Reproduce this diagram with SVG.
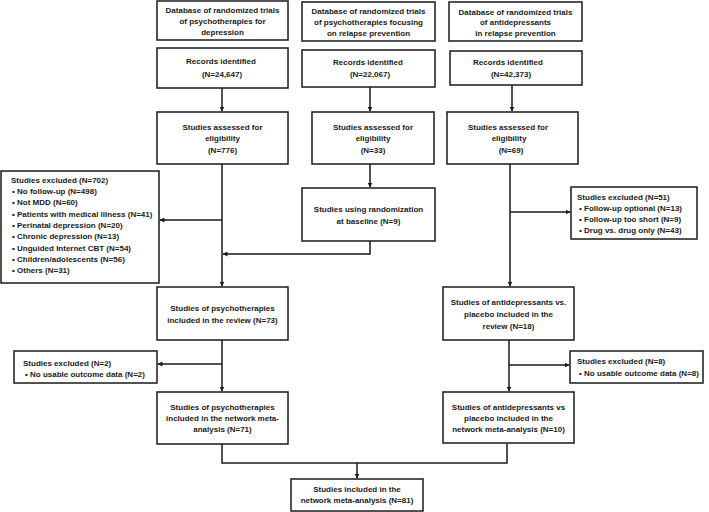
<svg xmlns="http://www.w3.org/2000/svg" width="709" height="512" viewBox="0 0 709 512">
<defs>
<style>
rect{fill:#fff;stroke:#1a1a1a;stroke-width:1.5}
text{font-family:"Liberation Sans",Arial,sans-serif;font-weight:bold;font-size:8px;fill:#1a1a1a}
.c{text-anchor:middle}
.ln{fill:none;stroke:#1a1a1a;stroke-width:1.5}
</style>
<marker id="ah" viewBox="0 0 10 10" refX="9" refY="5" markerWidth="5" markerHeight="5" orient="auto" markerUnits="userSpaceOnUse">
<path d="M0,0 L10,5 L0,10 z" fill="#1a1a1a"/>
</marker>
</defs>
<rect x="0" y="0" width="709" height="512" style="fill:#fff;stroke:none"/>
<g id="connectors">
<path class="ln" d="M222,88 V111" marker-end="url(#ah)"/>
<path class="ln" d="M370,87 V111" marker-end="url(#ah)"/>
<path class="ln" d="M512,85 V111" marker-end="url(#ah)"/>
<path class="ln" d="M222,164 V286" marker-end="url(#ah)"/>
<path class="ln" d="M222,220 H160" marker-end="url(#ah)"/>
<path class="ln" d="M370,164 V187" marker-end="url(#ah)"/>
<path class="ln" d="M370,241 V254 H223" marker-end="url(#ah)"/>
<path class="ln" d="M510,164 V286" marker-end="url(#ah)"/>
<path class="ln" d="M510,212 H570" marker-end="url(#ah)"/>
<path class="ln" d="M222,340 V391" marker-end="url(#ah)"/>
<path class="ln" d="M222,364 H158" marker-end="url(#ah)"/>
<path class="ln" d="M509,340 V391" marker-end="url(#ah)"/>
<path class="ln" d="M509,365 H569" marker-end="url(#ah)"/>
<path class="ln" d="M222,444 V463 H507 V444"/>
<path class="ln" d="M357,463 V478" marker-end="url(#ah)"/>
</g>
<g id="db1">
<rect x="157" y="1" width="131" height="39"/>
<text class="c" x="222.5" y="13">Database of randomized trials</text>
<text class="c" x="222.5" y="24">of psychotherapies for</text>
<text class="c" x="222.5" y="35">depression</text>
</g>
<g id="db2">
<rect x="302" y="2" width="133" height="39"/>
<text class="c" x="368.5" y="14">Database of randomized trials</text>
<text class="c" x="368.5" y="25">of psychotherapies focusing</text>
<text class="c" x="368.5" y="36">on relapse prevention</text>
</g>
<g id="db3">
<rect x="449" y="2" width="133" height="39"/>
<text class="c" x="515.5" y="15">Database of randomized trials</text>
<text class="c" x="515.5" y="25">of antidepressants</text>
<text class="c" x="515.5" y="36">in relapse prevention</text>
</g>
<g id="rec1">
<rect x="157" y="48" width="131" height="40"/>
<text class="c" x="221" y="64">Records identified</text>
<text class="c" x="222" y="77">(N=24,647)</text>
</g>
<g id="rec2">
<rect x="302" y="50" width="133" height="37"/>
<text class="c" x="368" y="65">Records identified</text>
<text class="c" x="370" y="77">(N=22,067)</text>
</g>
<g id="rec3">
<rect x="450" y="51" width="132" height="34"/>
<text class="c" x="508" y="65">Records identified</text>
<text class="c" x="511" y="77">(N=42,373)</text>
</g>
<g id="elig1">
<rect x="157" y="112" width="131" height="52"/>
<text class="c" x="222.5" y="130">Studies assessed for</text>
<text class="c" x="222.5" y="141">eligibility</text>
<text class="c" x="222.5" y="153">(N=776)</text>
</g>
<g id="elig2">
<rect x="312" y="112" width="122" height="52"/>
<text class="c" x="373" y="130">Studies assessed for</text>
<text class="c" x="373" y="141">eligibility</text>
<text class="c" x="373" y="153">(N=33)</text>
</g>
<g id="elig3">
<rect x="447" y="112" width="131" height="52"/>
<text class="c" x="508" y="130">Studies assessed for</text>
<text class="c" x="509" y="141">eligibility</text>
<text class="c" x="511" y="153">(N=69)</text>
</g>
<g id="excl702">
<rect x="1" y="171" width="158" height="112"/>
<text x="11" y="183">Studies excluded (N=702)</text>
<text x="12" y="194">• No follow-up (N=498)</text>
<text x="12" y="205">• Not MDD (N=60)</text>
<text x="12" y="217">• Patients with medical illness (N=41)</text>
<text x="12" y="228">• Perinatal depression (N=20)</text>
<text x="12" y="239">• Chronic depression (N=13)</text>
<text x="12" y="251">• Unguided Internet CBT (N=54)</text>
<text x="12" y="262">• Children/adolescents (N=56)</text>
<text x="12" y="273">• Others (N=31)</text>
</g>
<g id="randbase">
<rect x="302" y="188" width="133" height="53"/>
<text class="c" x="368.5" y="212">Studies using randomization</text>
<text class="c" x="368.5" y="224">at baseline (N=9)</text>
</g>
<g id="excl51">
<rect x="571" y="187" width="126" height="52"/>
<text x="577" y="200">Studies excluded (N=51)</text>
<text x="579" y="211">• Follow-up optional (N=13)</text>
<text x="579" y="222">• Follow-up too short (N=9)</text>
<text x="579" y="233">• Drug vs. drug only (N=43)</text>
</g>
<g id="rev1">
<rect x="157" y="287" width="131" height="53"/>
<text class="c" x="222.5" y="311">Studies of psychotherapies</text>
<text class="c" x="222.5" y="323">included in the review (N=73)</text>
</g>
<g id="rev2">
<rect x="443" y="287" width="131" height="53"/>
<text class="c" x="508.5" y="305">Studies of antidepressants vs.</text>
<text class="c" x="508.5" y="317">placebo included in the</text>
<text class="c" x="508.5" y="329">review (N=18)</text>
</g>
<g id="excl2">
<rect x="14" y="351" width="143" height="32"/>
<text x="23" y="366">Studies excluded (N=2)</text>
<text x="25" y="377">• No usable outcome data (N=2)</text>
</g>
<g id="excl8">
<rect x="570" y="351" width="133" height="32"/>
<text x="577" y="364">Studies excluded (N=8)</text>
<text x="579" y="376">• No usable outcome data (N=8)</text>
</g>
<g id="nma1">
<rect x="157" y="392" width="131" height="52"/>
<text class="c" x="222.5" y="410">Studies of psychotherapies</text>
<text class="c" x="222.5" y="421">included in the network meta-</text>
<text class="c" x="222.5" y="432">analysis (N=71)</text>
</g>
<g id="nma2">
<rect x="443" y="392" width="131" height="51"/>
<text class="c" x="508.5" y="410">Studies of antidepressants vs</text>
<text class="c" x="508.5" y="421">placebo included in the</text>
<text class="c" x="508.5" y="432">network meta-analysis (N=10)</text>
</g>
<g id="final">
<rect x="291" y="479" width="132" height="32"/>
<text class="c" x="357" y="492">Studies included in the</text>
<text class="c" x="357" y="503">network meta-analysis (N=81)</text>
</g>
</svg>
